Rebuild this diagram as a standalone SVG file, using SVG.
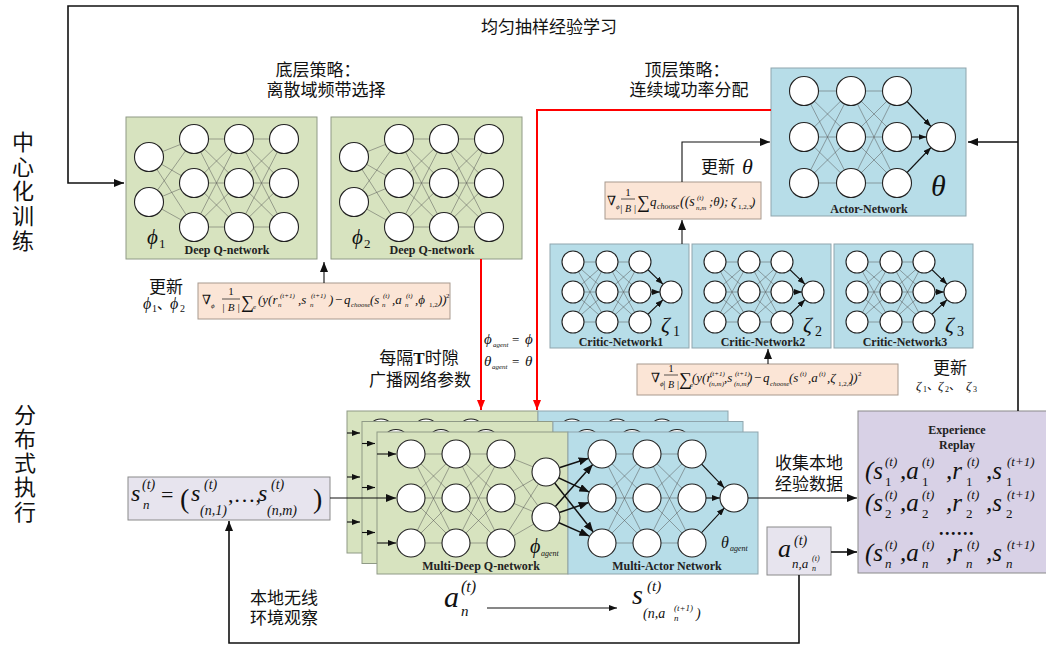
<svg xmlns="http://www.w3.org/2000/svg" xmlns:xlink="http://www.w3.org/1999/xlink" width="1046" height="645" viewBox="0 0 1046 645">
<defs>
<style>
.cn{font-family:"Noto Sans CJK SC",sans-serif;fill:#111}
.mi{font-family:"Liberation Serif","DejaVu Serif",serif;font-style:italic;fill:#111}
.mr{font-family:"Liberation Serif","DejaVu Serif",serif;font-style:normal;fill:#111}
.lb{font-family:"Liberation Serif",serif;font-weight:bold;font-size:12px;fill:#222;text-anchor:middle}
.g{fill:#d7e3bf;stroke:#8f9a86;stroke-width:1}
.b{fill:#b7dde8;stroke:#8fa5ad;stroke-width:1}
.pe{fill:#fbe5d6;stroke:#a8998e;stroke-width:1}
.lv{fill:#e7e4ee;stroke:#8a8a8a;stroke-width:1}
.rp{fill:#d8d1e6;stroke:#8a8a8a;stroke-width:1}
.n{fill:#fff;stroke:#222;stroke-width:1.1}
.w{stroke:#555;stroke-width:0.5;fill:none}
.c{stroke:#111;stroke-width:1.6;fill:none}
.r{stroke:#ff0000;stroke-width:2;fill:none}
.a{stroke:#111;stroke-width:1.1;fill:none}
.ab{stroke:#111;stroke-width:1.5;fill:none}
</style>
<marker id="ah" markerUnits="userSpaceOnUse" markerWidth="10" markerHeight="8" refX="10" refY="4" orient="auto"><path d="M0,0L10,4L0,8z" fill="#111"/></marker>
<marker id="ahr" markerUnits="userSpaceOnUse" markerWidth="10" markerHeight="8" refX="10" refY="4" orient="auto"><path d="M0,0L10,4L0,8z" fill="#ff0000"/></marker>
<marker id="ahs" markerUnits="userSpaceOnUse" markerWidth="8" markerHeight="6" refX="8" refY="3" orient="auto"><path d="M0,0L8,3L0,6z" fill="#111"/></marker>

<g id="dqnT">
<rect class="g" x="0" y="0" width="191" height="142"/>
<path class="w" d="M23,40L68,22M23,40L68,66M23,40L68,110M23,85L68,22M23,85L68,66M23,85L68,110M68,22L113,22M68,22L113,66M68,22L113,110M68,66L113,22M68,66L113,66M68,66L113,110M68,110L113,22M68,110L113,66M68,110L113,110M113,22L158,22M113,22L158,66M113,22L158,110M113,66L158,22M113,66L158,66M113,66L158,110M113,110L158,22M113,110L158,66M113,110L158,110"/>
<circle class="n" cx="23" cy="40" r="14.5"/><circle class="n" cx="23" cy="85" r="14.5"/>
<circle class="n" cx="68" cy="22" r="14.5"/><circle class="n" cx="68" cy="66" r="14.5"/><circle class="n" cx="68" cy="110" r="14.5"/>
<circle class="n" cx="113" cy="22" r="14.5"/><circle class="n" cx="113" cy="66" r="14.5"/><circle class="n" cx="113" cy="110" r="14.5"/>
<circle class="n" cx="158" cy="22" r="14.5"/><circle class="n" cx="158" cy="66" r="14.5"/><circle class="n" cx="158" cy="110" r="14.5"/>
<text class="lb" x="101" y="137">Deep Q-network</text>
</g>

<g id="crT">
<rect class="b" x="0" y="0" width="139" height="104"/>
<path class="w" d="M23,18L57,18M23,18L57,48M23,18L57,78M23,48L57,18M23,48L57,48M23,48L57,78M23,78L57,18M23,78L57,48M23,78L57,78M57,18L90,18M57,18L90,48M57,18L90,78M57,48L90,18M57,48L90,48M57,48L90,78M57,78L90,18M57,78L90,48M57,78L90,78"/>
<path class="a" d="M90,18L113.1,40.3" marker-end="url(#ahs)"/>
<path class="a" d="M90,48L110,48" marker-end="url(#ahs)"/>
<path class="a" d="M90,78L113.1,55.7" marker-end="url(#ahs)"/>
<circle class="n" cx="23" cy="18" r="11"/><circle class="n" cx="23" cy="48" r="11"/><circle class="n" cx="23" cy="78" r="11"/>
<circle class="n" cx="57" cy="18" r="11"/><circle class="n" cx="57" cy="48" r="11"/><circle class="n" cx="57" cy="78" r="11"/>
<circle class="n" cx="90" cy="18" r="11"/><circle class="n" cx="90" cy="48" r="11"/><circle class="n" cx="90" cy="78" r="11"/>
<circle class="n" cx="121" cy="48" r="11"/>
</g>

<g id="cardT">
<rect class="g" x="0" y="0" width="191" height="142"/>
<rect class="b" x="191" y="0" width="190" height="142"/>
<path class="w" d="M34,22L79,22M34,22L79,66M34,22L79,111M34,66L79,22M34,66L79,66M34,66L79,111M34,111L79,22M34,111L79,66M34,111L79,111M79,22L124,22M79,22L124,66M79,22L124,111M79,66L124,22M79,66L124,66M79,66L124,111M79,111L124,22M79,111L124,66M79,111L124,111M124,22L169,40M124,22L169,85M124,66L169,40M124,66L169,85M124,111L169,40M124,111L169,85M225,22L270,22M225,22L270,66M225,22L270,111M225,66L270,22M225,66L270,66M225,66L270,111M225,111L270,22M225,111L270,66M225,111L270,111M270,22L315,22M270,22L315,66M270,22L315,111M270,66L315,22M270,66L315,66M270,66L315,111M270,111L315,22M270,111L315,66M270,111L315,111"/>
<path class="a" d="M315,22L347.3,55.9" marker-end="url(#ahs)"/>
<path class="a" d="M315,66L343,66" marker-end="url(#ahs)"/>
<path class="a" d="M315,111L347.5,75.8" marker-end="url(#ahs)"/>
<path class="ab" d="M169,40L211.7,26.3" marker-end="url(#ah)"/>
<path class="ab" d="M169,40L212.3,60.1" marker-end="url(#ah)"/>
<path class="ab" d="M169,40L216.3,100" marker-end="url(#ah)"/>
<path class="ab" d="M169,85L215.7,32.5" marker-end="url(#ah)"/>
<path class="ab" d="M169,85L211.7,70.5" marker-end="url(#ah)"/>
<path class="ab" d="M169,85L212.3,104.1" marker-end="url(#ah)"/>
<circle class="n" cx="34" cy="22" r="14"/><circle class="n" cx="34" cy="66" r="14"/><circle class="n" cx="34" cy="111" r="14"/>
<circle class="n" cx="79" cy="22" r="14"/><circle class="n" cx="79" cy="66" r="14"/><circle class="n" cx="79" cy="111" r="14"/>
<circle class="n" cx="124" cy="22" r="14"/><circle class="n" cx="124" cy="66" r="14"/><circle class="n" cx="124" cy="111" r="14"/>
<circle class="n" cx="169" cy="40" r="14"/><circle class="n" cx="169" cy="85" r="14"/>
<circle class="n" cx="225" cy="22" r="14"/><circle class="n" cx="225" cy="66" r="14"/><circle class="n" cx="225" cy="111" r="14"/>
<circle class="n" cx="270" cy="22" r="14"/><circle class="n" cx="270" cy="66" r="14"/><circle class="n" cx="270" cy="111" r="14"/>
<circle class="n" cx="315" cy="22" r="14"/><circle class="n" cx="315" cy="66" r="14"/><circle class="n" cx="315" cy="111" r="14"/>
<circle class="n" cx="357" cy="66" r="14"/>
</g>
</defs>

<rect x="0" y="0" width="1046" height="645" fill="#ffffff"/>

<!-- side labels -->
<g id="label-central">
<text class="cn" font-size="22" x="23" y="150" text-anchor="middle">中</text>
<text class="cn" font-size="22" x="23" y="174.5" text-anchor="middle">心</text>
<text class="cn" font-size="22" x="23" y="199" text-anchor="middle">化</text>
<text class="cn" font-size="22" x="23" y="224" text-anchor="middle">训</text>
<text class="cn" font-size="22" x="23" y="249" text-anchor="middle">练</text>
</g>
<g id="label-distributed">
<text class="cn" font-size="22" x="25" y="423" text-anchor="middle">分</text>
<text class="cn" font-size="22" x="25" y="447" text-anchor="middle">布</text>
<text class="cn" font-size="22" x="25" y="471" text-anchor="middle">式</text>
<text class="cn" font-size="22" x="25" y="495" text-anchor="middle">执</text>
<text class="cn" font-size="22" x="25" y="520" text-anchor="middle">行</text>
</g>

<!-- titles -->
<g id="titles">
<text class="cn" font-size="17" text-anchor="middle" x="549" y="33">均匀抽样经验学习</text>
<text class="cn" font-size="17" text-anchor="middle" x="318" y="76">底层策略：</text>
<text class="cn" font-size="17" text-anchor="middle" x="326" y="96">离散域频带选择</text>
<text class="cn" font-size="17" text-anchor="middle" x="687" y="76">顶层策略：</text>
<text class="cn" font-size="17" text-anchor="middle" x="689" y="96">连续域功率分配</text>
</g>

<!-- DQN 1 -->
<g id="dqn1">
<use xlink:href="#dqnT" href="#dqnT" transform="translate(126,117)"/>
<text class="mi" font-size="21" x="147" y="244">ϕ</text>
<text class="mr" font-size="13" x="159" y="248">1</text>
</g>
<!-- DQN 2 -->
<g id="dqn2">
<use xlink:href="#dqnT" href="#dqnT" transform="translate(331,117)"/>
<text class="mi" font-size="21" x="352" y="244">ϕ</text>
<text class="mr" font-size="13" x="364" y="248">2</text>
</g>

<!-- Actor network -->
<g id="actor">
<rect class="b" x="771" y="68" width="195" height="148"/>
<path class="w" d="M804,91L851,91M804,91L851,137M804,91L851,183M804,137L851,91M804,137L851,137M804,137L851,183M804,183L851,91M804,183L851,137M804,183L851,183M851,91L897,91M851,91L897,137M851,91L897,183M851,137L897,91M851,137L897,137M851,137L897,183M851,183L897,91M851,183L897,137M851,183L897,183"/>
<path class="a" d="M897,91L931,126.5" marker-end="url(#ahs)"/>
<path class="a" d="M897,137L926.5,137" marker-end="url(#ahs)"/>
<path class="a" d="M897,183L931,147.5" marker-end="url(#ahs)"/>
<circle class="n" cx="804" cy="91" r="14.5"/><circle class="n" cx="804" cy="137" r="14.5"/><circle class="n" cx="804" cy="183" r="14.5"/>
<circle class="n" cx="851" cy="91" r="14.5"/><circle class="n" cx="851" cy="137" r="14.5"/><circle class="n" cx="851" cy="183" r="14.5"/>
<circle class="n" cx="897" cy="91" r="14.5"/><circle class="n" cx="897" cy="137" r="14.5"/><circle class="n" cx="897" cy="183" r="14.5"/>
<circle class="n" cx="941" cy="137" r="14.5"/>
<text class="mi" font-size="30" x="931" y="196">θ</text>
<text class="lb" x="869" y="213">Actor-Network</text>
</g>

<!-- Critic networks -->
<g id="critic1">
<use xlink:href="#crT" href="#crT" transform="translate(550,244)"/>
<text class="mi" font-size="22" x="661" y="332">ζ</text><text class="mr" font-size="14" x="673" y="336">1</text>
<text class="lb" x="621" y="346">Critic-Network1</text>
</g>
<g id="critic2">
<use xlink:href="#crT" href="#crT" transform="translate(692,244)"/>
<text class="mi" font-size="22" x="803" y="332">ζ</text><text class="mr" font-size="14" x="815" y="336">2</text>
<text class="lb" x="763" y="346">Critic-Network2</text>
</g>
<g id="critic3">
<use xlink:href="#crT" href="#crT" transform="translate(834,244)"/>
<text class="mi" font-size="22" x="945" y="332">ζ</text><text class="mr" font-size="14" x="957" y="336">3</text>
<text class="lb" x="905" y="346">Critic-Network3</text>
</g>

<!-- Formula 1 -->
<g id="formula-dqn">
<rect class="pe" x="198" y="283" width="252" height="36"/>
<text class="mr" font-size="13" x="202" y="304">∇</text>
<text class="mi" font-size="7" x="211" y="308">ϕ</text>
<text class="mr" font-size="11" x="231" y="295" text-anchor="middle">1</text>
<line x1="222" y1="299" x2="240" y2="299" stroke="#111" stroke-width="0.7"/>
<text class="mi" font-size="11" x="231" y="311" text-anchor="middle">| B |</text>
<text class="mr" font-size="18" x="241" y="308">∑</text>
<text class="mi" font-size="7" x="253" y="309">e</text>
<text class="mi" font-size="13" x="258" y="304">(y(r</text>
<text class="mi" font-size="7" x="278" y="307">n</text><text class="mi" font-size="7" x="280" y="298">(t+1)</text>
<text class="mi" font-size="13" x="298" y="304">,s</text>
<text class="mi" font-size="7" x="310" y="307">n</text><text class="mi" font-size="7" x="311" y="298">(t+1)</text>
<text class="mi" font-size="13" x="329" y="304">)</text>
<text class="mr" font-size="13" x="335" y="304">−</text>
<text class="mi" font-size="13" x="344" y="304">q</text>
<text class="mi" font-size="7" x="351" y="307">choose</text>
<text class="mi" font-size="13" x="370" y="304">(s</text>
<text class="mi" font-size="7" x="382" y="307">n</text><text class="mi" font-size="7" x="383" y="298">(t)</text>
<text class="mi" font-size="13" x="392" y="304">,a</text>
<text class="mi" font-size="7" x="405" y="307">n</text><text class="mi" font-size="7" x="406" y="298">(t)</text>
<text class="mi" font-size="13" x="415" y="304">,ϕ</text>
<text class="mr" font-size="7" x="429" y="307">1,2</text>
<text class="mi" font-size="13" x="438" y="304">))</text>
<text class="mr" font-size="7" x="446" y="298">2</text>
</g>
<g id="update-phi">
<text class="cn" font-size="17" x="166" y="293" text-anchor="middle">更新</text>
<text class="mi" font-size="16" x="143" y="309">ϕ</text><text class="mr" font-size="10" x="152" y="312">1</text>
<text class="cn" font-size="14" x="157" y="309">、</text>
<text class="mi" font-size="16" x="170" y="309">ϕ</text><text class="mr" font-size="10" x="180" y="312">2</text>
</g>

<!-- Formula 2 -->
<g id="formula-actor">
<rect class="pe" x="605" y="182" width="156" height="37"/>
<text class="mr" font-size="13" x="607" y="205">∇</text>
<text class="mi" font-size="7" x="616" y="209">ϕ</text>
<text class="mr" font-size="11" x="628" y="196" text-anchor="middle">1</text>
<line x1="621" y1="199" x2="635" y2="199" stroke="#111" stroke-width="0.7"/>
<text class="mi" font-size="10" x="628" y="212" text-anchor="middle">| B |</text>
<text class="mr" font-size="18" x="637" y="208">∑</text>
<text class="mi" font-size="13" x="650" y="206">q</text>
<text class="mi" font-size="8" x="657" y="209">choose</text>
<text class="mi" font-size="14" x="680" y="206">((s</text>
<text class="mi" font-size="7" x="696" y="210">n,m</text><text class="mi" font-size="7" x="697" y="200">(t)</text>
<text class="mi" font-size="13" x="709" y="206">;θ);</text>
<text class="mi" font-size="13" x="731" y="206">ζ</text>
<text class="mr" font-size="7" x="738" y="209">1,2,3</text>
<text class="mi" font-size="13" x="751" y="206">)</text>
</g>
<g id="update-theta">
<text class="cn" font-size="17" x="718" y="173" text-anchor="middle">更新</text>
<text class="mi" font-size="22" x="742" y="174">θ</text>
</g>

<!-- Formula 3 -->
<g id="formula-critic">
<rect class="pe" x="637" y="364" width="261" height="31"/>
<text class="mr" font-size="13" x="651" y="382">∇</text>
<text class="mi" font-size="7" x="660" y="386">ϕ</text>
<text class="mr" font-size="11" x="671" y="372" text-anchor="middle">1</text>
<line x1="664" y1="375" x2="678" y2="375" stroke="#111" stroke-width="0.7"/>
<text class="mi" font-size="10" x="671" y="388" text-anchor="middle">| B |</text>
<text class="mr" font-size="18" x="679" y="385">∑</text>
<text class="mi" font-size="7" x="690" y="387">e</text>
<text class="mi" font-size="13" x="692" y="382">(y(r</text>
<text class="mi" font-size="7" x="709" y="386">(n,m)</text><text class="mi" font-size="7" x="710" y="376">(t+1)</text>
<text class="mi" font-size="13" x="724" y="382">,s</text>
<text class="mi" font-size="7" x="734" y="386">(n,m)</text><text class="mi" font-size="7" x="735" y="376">(t+1)</text>
<text class="mi" font-size="13" x="748" y="382">)</text>
<text class="mr" font-size="13" x="754" y="382">−</text>
<text class="mi" font-size="13" x="763" y="382">q</text>
<text class="mi" font-size="7" x="770" y="386">choose</text>
<text class="mi" font-size="13" x="789" y="382">(s</text>
<text class="mi" font-size="7" x="800" y="376">(t)</text>
<text class="mi" font-size="13" x="808" y="382">,a</text>
<text class="mi" font-size="7" x="819" y="376">(t)</text>
<text class="mi" font-size="13" x="827" y="382">,ζ</text>
<text class="mr" font-size="7" x="838" y="386">1,2,3</text>
<text class="mi" font-size="13" x="849" y="382">))</text>
<text class="mr" font-size="7" x="858" y="376">2</text>
</g>
<g id="update-zeta">
<text class="cn" font-size="17" x="950" y="374" text-anchor="middle">更新</text>
<text class="mi" font-size="13" x="916" y="390">ζ</text><text class="mr" font-size="8" x="923" y="392">1</text>
<text class="cn" font-size="12" x="927" y="390">、</text>
<text class="mi" font-size="13" x="938" y="390">ζ</text><text class="mr" font-size="8" x="945" y="392">2</text>
<text class="cn" font-size="12" x="949" y="390">、</text>
<text class="mi" font-size="13" x="966" y="390">ζ</text><text class="mr" font-size="8" x="973" y="392">3</text>
</g>

<!-- broadcast labels -->
<g id="broadcast">
<text class="cn" font-size="17" x="419" y="364" text-anchor="middle">每隔<tspan font-family="Liberation Serif" font-weight="bold">T</tspan>时隙</text>
<text class="cn" font-size="17" x="420" y="386" text-anchor="middle">广播网络参数</text>
<text class="mi" font-size="15" x="484" y="344">ϕ</text>
<text class="mi" font-size="7" x="493" y="347">agent</text>
<text class="mr" font-size="13" x="512" y="344">=</text>
<text class="mi" font-size="15" x="525" y="344">ϕ</text>
<text class="mi" font-size="15" x="484" y="366">θ</text>
<text class="mi" font-size="7" x="492" y="369">agent</text>
<text class="mr" font-size="13" x="512" y="366">=</text>
<text class="mi" font-size="15" x="525" y="366">θ</text>
</g>

<!-- state box -->
<g id="state">
<rect class="lv" x="128" y="477" width="202" height="43"/>
<text class="mi" font-size="24" x="131" y="501">s</text>
<text class="mi" font-size="14" x="142" y="489">(t)</text>
<text class="mi" font-size="13" x="143" y="509">n</text>
<text class="mr" font-size="22" x="161" y="502">=</text>
<text class="mr" font-size="28" x="180" y="508">(</text>
<text class="mi" font-size="24" x="191" y="501">s</text>
<text class="mi" font-size="14" x="204" y="489">(t)</text>
<text class="mi" font-size="14" x="200" y="515">(n,1)</text>
<text class="mr" font-size="22" x="228" y="502">,…,</text>
<text class="mi" font-size="24" x="258" y="501">s</text>
<text class="mi" font-size="14" x="271" y="489">(t)</text>
<text class="mi" font-size="14" x="267" y="515">(n,m)</text>
<text class="mr" font-size="28" x="313" y="508">)</text>
</g>

<!-- stacked multi-agent cards -->
<g id="agents">
<use xlink:href="#cardT" href="#cardT" transform="translate(347,411)"/>
<use xlink:href="#cardT" href="#cardT" transform="translate(362,421.5)"/>
<use xlink:href="#cardT" href="#cardT" transform="translate(377,432)"/>
<text class="mi" font-size="20" x="530" y="553">ϕ</text>
<text class="mi" font-size="8" x="541" y="556">agent</text>
<text class="mi" font-size="16" x="721" y="548">θ</text>
<text class="mi" font-size="8" x="730" y="551">agent</text>
<text class="lb" x="481" y="570">Multi-Deep Q-network</text>
<text class="lb" x="667" y="570">Multi-Actor Network</text>
</g>

<!-- action box -->
<g id="action">
<rect class="lv" x="767" y="527" width="64" height="48"/>
<text class="mi" font-size="26" x="778" y="557">a</text>
<text class="mi" font-size="14" x="794" y="545">(t)</text>
<text class="mi" font-size="13" x="792" y="568">n,a</text>
<text class="mi" font-size="8" x="812" y="561">(t)</text>
<text class="mi" font-size="8" x="812" y="571">n</text>
</g>

<!-- experience replay -->
<g id="replay">
<rect class="rp" x="858" y="411" width="200" height="162"/>
<text class="lb" x="957" y="434">Experience</text>
<text class="lb" x="957" y="449">Replay</text>
<g class="mi" font-size="25">
<text x="865" y="479">(s</text><text x="885" y="466" font-size="13">(t)</text><text x="885" y="486" font-size="13" class="mr">1</text>
<text x="900" y="479">,a</text><text x="922" y="466" font-size="13">(t)</text><text x="922" y="486" font-size="13" class="mr">1</text>
<text x="946" y="479">,r</text><text x="967" y="466" font-size="13">(t)</text><text x="966" y="486" font-size="13" class="mr">1</text>
<text x="986" y="479">,s</text><text x="1007" y="466" font-size="13">(t+1)</text><text x="1006" y="486" font-size="13" class="mr">1</text>

<text x="865" y="511">(s</text><text x="885" y="499" font-size="13">(t)</text><text x="885" y="518" font-size="13" class="mr">2</text>
<text x="900" y="511">,a</text><text x="922" y="499" font-size="13">(t)</text><text x="922" y="518" font-size="13" class="mr">2</text>
<text x="946" y="511">,r</text><text x="967" y="499" font-size="13">(t)</text><text x="966" y="518" font-size="13" class="mr">2</text>
<text x="986" y="511">,s</text><text x="1007" y="499" font-size="13">(t+1)</text><text x="1006" y="518" font-size="13" class="mr">2</text>

<text x="865" y="561">(s</text><text x="885" y="549" font-size="13">(t)</text><text x="885" y="568" font-size="13">n</text>
<text x="900" y="561">,a</text><text x="922" y="549" font-size="13">(t)</text><text x="922" y="568" font-size="13">n</text>
<text x="946" y="561">,r</text><text x="967" y="549" font-size="13">(t)</text><text x="966" y="568" font-size="13">n</text>
<text x="986" y="561">,s</text><text x="1007" y="549" font-size="13">(t+1)</text><text x="1006" y="568" font-size="13">n</text>
</g>
<text class="mr" font-size="18" font-weight="bold" x="957" y="535" text-anchor="middle" letter-spacing="1.5">......</text>
</g>

<!-- other labels -->
<g id="labels-bottom">
<text class="cn" font-size="17" x="809" y="469" text-anchor="middle">收集本地</text>
<text class="cn" font-size="17" x="809" y="490" text-anchor="middle">经验数据</text>
<text class="cn" font-size="17" x="284" y="604" text-anchor="middle">本地无线</text>
<text class="cn" font-size="17" x="284" y="624" text-anchor="middle">环境观察</text>
<text class="mi" font-size="30" x="444" y="607">a</text>
<text class="mi" font-size="16" x="461" y="592">(t)</text>
<text class="mi" font-size="15" x="461" y="616">n</text>
<text class="mi" font-size="28" x="632" y="604">s</text>
<text class="mi" font-size="15" x="647" y="591">(t)</text>
<text class="mi" font-size="14" x="643" y="618">(n,a</text>
<text class="mi" font-size="9" x="674" y="611">(t+1)</text>
<text class="mi" font-size="9" x="674" y="621">n</text>
<text class="mi" font-size="14" x="696" y="618">)</text>
</g>

<!-- connectors -->
<g id="connectors">
<path class="c" d="M1018,411V6H68V183H124" marker-end="url(#ah)"/>
<path class="c" d="M1018,142H968" marker-end="url(#ah)"/>
<path class="a" d="M324,283V262" marker-end="url(#ah)"/>
<path class="r" d="M481,259V410" marker-end="url(#ahr)"/>
<path class="r" d="M771,110H537V410" marker-end="url(#ahr)"/>
<path class="a" d="M682,182V142H770" marker-end="url(#ah)"/>
<path class="a" d="M682,244V220" marker-end="url(#ah)"/>
<path class="a" d="M768,364V349" marker-end="url(#ah)"/>
<path class="a" d="M330,498H396" marker-end="url(#ah)"/>
<path class="a" d="M347,433H360" marker-end="url(#ahs)"/>
<path class="a" d="M347,477H360" marker-end="url(#ahs)"/>
<path class="a" d="M347,522H360" marker-end="url(#ahs)"/>
<path class="a" d="M362,443.5H375" marker-end="url(#ahs)"/>
<path class="a" d="M362,487.5H375" marker-end="url(#ahs)"/>
<path class="a" d="M362,532.5H375" marker-end="url(#ahs)"/>
<path class="a" d="M377,454H396" marker-end="url(#ahs)"/>
<path class="a" d="M377,543H396" marker-end="url(#ahs)"/>
<path class="a" d="M748,498H857" marker-end="url(#ah)"/>
<path class="c" d="M831,552H857" marker-end="url(#ah)"/>
<path class="c" d="M799,575V643H229V521" marker-end="url(#ah)"/>
<path class="a" stroke-width="0.9" d="M487,608H617" marker-end="url(#ahs)"/>
</g>
</svg>
